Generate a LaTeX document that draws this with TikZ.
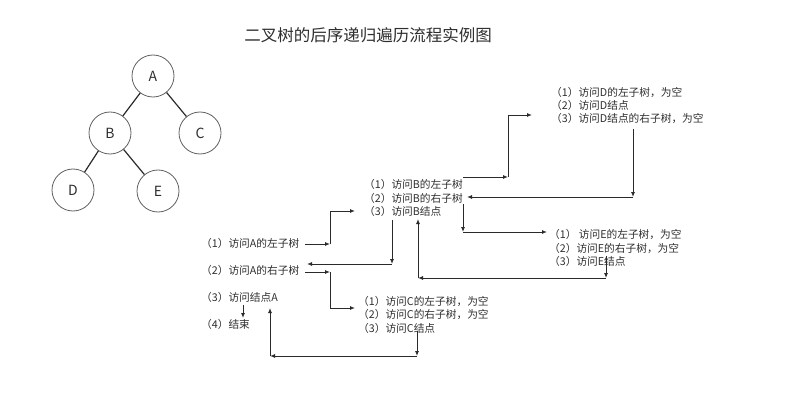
\documentclass[tikz,border=0pt]{standalone}
\usepackage{fontspec}
\setmainfont{Noto Sans CJK SC}
\usetikzlibrary{arrows.meta}
\definecolor{txt}{HTML}{2E2E2E}
\definecolor{ln}{HTML}{2A2A2A}
\definecolor{circ}{HTML}{606060}
\begin{document}
\begin{tikzpicture}[x=1pt,y=-1pt,
  lbl/.style={anchor=west,inner sep=0pt,text=txt,font=\fontsize{10.7}{12}\selectfont},
  tnode/.style={circle,draw=circ,line width=0.8pt,minimum size=42pt,inner sep=0pt,text=txt,font=\fontsize{14}{16}\selectfont},
  tedge/.style={draw=ln,line width=1.2pt},
  conn/.style={draw=ln,line width=0.9pt,-{Latex[length=5pt,width=4pt]}}]
\useasboundingbox (0,0) rectangle (800,417);
\node[text=txt,font=\fontsize{16.5}{20}\selectfont] (title) at (368,35) {二叉树的后序递归遍历流程实例图};
% tree
\node[tnode] (A) at (153,76) {A};
\node[tnode] (B) at (110,133) {B};
\node[tnode] (C) at (200,133) {C};
\node[tnode] (D) at (73,190) {D};
\node[tnode] (E) at (158,191) {E};
\draw[tedge] (A) -- (B);
\draw[tedge] (A) -- (C);
\draw[tedge] (B) -- (D);
\draw[tedge] (B) -- (E);
% text blocks
\node[lbl] (a1) at (201,243) {（1）访问A的左子树};
\node[lbl] (a2) at (201,270) {（2）访问A的右子树};
\node[lbl] (a3) at (201,297) {（3）访问结点A};
\node[lbl] (a4) at (201,324) {（4）结束};
\node[lbl] (b1) at (364,184) {（1）访问B的左子树};
\node[lbl] (b2) at (364,198) {（2）访问B的右子树};
\node[lbl] (b3) at (364,211) {（3）访问B结点};
\node[lbl] (c1) at (358,301) {（1）访问C的左子树，为空};
\node[lbl] (c2) at (358,314) {（2）访问C的右子树，为空};
\node[lbl] (c3) at (358,328) {（3）访问C结点};
\node[lbl] (d1) at (551,92) {（1）访问D的左子树，为空};
\node[lbl] (d2) at (551,105) {（2）访问D结点};
\node[lbl] (d3) at (551,118) {（3）访问D结点的右子树，为空};
\node[lbl] (e1) at (549,234) {（1） 访问E的左子树，为空};
\node[lbl] (e2) at (549,248) {（2）访问E的右子树，为空};
\node[lbl] (e3) at (549,261) {（3）访问E结点};
% bend coordinates
\coordinate (p1) at (330,244);
\coordinate (p2) at (355,211);
\coordinate (p3) at (392,220);
\coordinate (p4) at (392,264);
\coordinate (p5) at (307,264);
\coordinate (p6) at (330,272);
\coordinate (p7) at (355,308);
\coordinate (p8) at (417,331);
\coordinate (p9) at (417,356);
\coordinate (p10) at (270,356);
\coordinate (p11) at (270,308);
\coordinate (p12) at (243,305);
\coordinate (p13) at (243,318);
\coordinate (q1) at (508,177);
\coordinate (q2) at (532,115);
\coordinate (q3) at (633,129);
\coordinate (q4) at (633,197);
\coordinate (q5) at (467,197);
\coordinate (q6) at (463,204);
\coordinate (q7) at (463,232);
\coordinate (q8) at (547,232);
\coordinate (r1) at (606,256);
\coordinate (r2) at (606,278);
\coordinate (r3) at (418,278);
\coordinate (r4) at (418,219);
\coordinate (s1) at (305,244);
\coordinate (s2) at (305,272);
\coordinate (s3) at (463,177);
% connectors
\draw[conn] (s1) -- (p1);
\draw[conn] (p1) |- (p2);
\draw[conn] (p3) -- (p4);
\draw[conn] (p4) -- (p5);
\draw[conn] (s2) -- (p6);
\draw[conn] (p6) |- (p7);
\draw[conn] (p8) -- (p9);
\draw[conn] (p9) -- (p10);
\draw[conn] (p10) -- (p11);
\draw[conn] (p12) -- (p13);
\draw[conn] (s3) -- (q1);
\draw[conn] (q1) |- (q2);
\draw[conn] (q3) -- (q4);
\draw[conn] (q4) -- (q5);
\draw[conn] (q6) -- (q7);
\draw[conn] (q7) -- (q8);
\draw[conn] (r1) -- (r2);
\draw[conn] (r2) -- (r3);
\draw[conn] (r3) -- (r4);
\end{tikzpicture}
\end{document}
